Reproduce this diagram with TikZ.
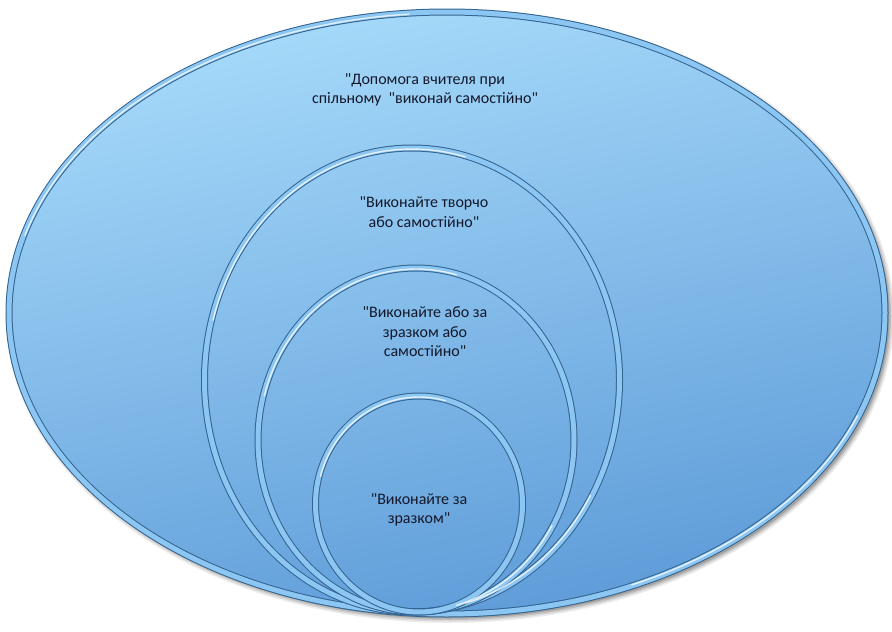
\documentclass[tikz,border=0pt]{standalone}
\usepackage{fontspec}
\setmainfont{Carlito}
\usetikzlibrary{shapes.geometric}
\definecolor{filllight}{HTML}{A6DAFA}
\definecolor{fillmid}{HTML}{80BCEE}
\definecolor{filldark}{HTML}{5E9BD8}
\definecolor{ringblue}{HTML}{8CC6F2}
\definecolor{ringdark}{HTML}{34628F}
\definecolor{txt}{HTML}{14182A}
\newcommand{\q}{\textquotedbl}
\tikzset{
  ring/.style={ellipse, inner sep=0pt, draw=ringdark, line width=1pt,
    double=ringblue, double distance=5pt},
  label/.style={align=center, text=txt, font=\fontsize{16}{19.5}\selectfont, inner sep=0pt},
  shine/.style={white, opacity=0.75, line width=1.4pt, line cap=round}
}
\begin{document}
\begin{tikzpicture}[x=1pt,y=-1pt]
\useasboundingbox (0,0) rectangle (892,632);
% soft shadow of the outer ellipse
\foreach \o/\a in {6/0.07,4.5/0.09,3/0.12,1.5/0.15}{
  \fill[black, opacity=\a] (450,316) ellipse [x radius=438+\o, y radius=-(301+\o)];
}
\node[ring, minimum width=876pt, minimum height=602pt,
  top color=filllight, middle color=fillmid, bottom color=filldark, shading angle=12] (outer) at (447,313) {};
\node[ring, minimum width=415pt, minimum height=464pt] (c1) at (412,380) {};
\node[ring, minimum width=316pt, minimum height=344pt] (c2) at (416,440) {};
\node[ring, minimum width=207pt, minimum height=216pt] (c3) at (419,504) {};
% highlights on the rings
\draw[shine] plot[domain=95:165, samples=40] ({447+437*cos(\x)}, {313-300*sin(\x)});
\draw[shine] plot[domain=75:165, samples=40] ({412+206*cos(\x)}, {380-231*sin(\x)});
\draw[shine] plot[domain=75:165, samples=40] ({416+157*cos(\x)}, {440-171*sin(\x)});
\draw[shine] plot[domain=75:165, samples=40] ({419+102*cos(\x)}, {504-107*sin(\x)});
\draw[shine] plot[domain=-65:-20, samples=30] ({447+437*cos(\x)}, {313-300*sin(\x)});
\draw[shine] plot[domain=-75:-30, samples=30] ({412+206*cos(\x)}, {380-231*sin(\x)});
\draw[shine] plot[domain=-75:-30, samples=30] ({416+157*cos(\x)}, {440-171*sin(\x)});
% labels
\node[label] (t0) at (425,90) {\q Допомога вчителя при\\спільному\ \ \q виконай самостійно\q};
\node[label] (t1) at (424,212) {\q Виконайте творчо\\або самостійно\q};
\node[label] (t2) at (425,332) {\q Виконайте або за\\зразком або\\самостійно\q};
\node[label] (t3) at (419,510) {\q Виконайте за\\зразком\q};
\end{tikzpicture}
\end{document}
